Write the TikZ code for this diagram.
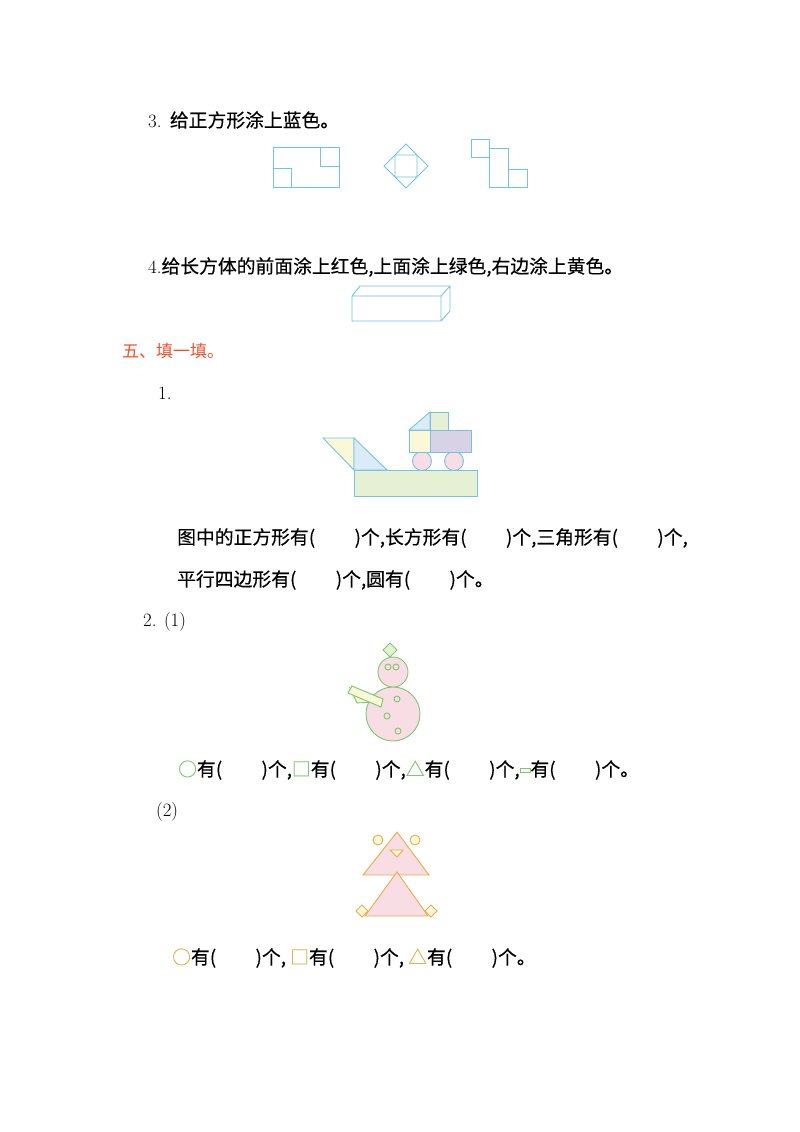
\documentclass[tikz,border=0pt]{standalone}
\usepackage{fontspec}
\newfontfamily\cjk{Noto Sans CJK SC}[FakeBold=0.3]
\begin{document}
\begin{tikzpicture}[x=1pt,y=-1pt,
  bl/.style={draw=cyanl,line width=0.9pt},
  gr/.style={draw=sg,line width=0.9pt},
  og/.style={draw=oo,line width=0.9pt},
  txt/.style={anchor=west,inner sep=0pt,font=\cjk\fontsize{18.8}{22}\selectfont}]
\useasboundingbox (0,0) rectangle (800,1132);
\definecolor{cyanl}{HTML}{72C4E0}
\definecolor{lb}{HTML}{DCEBF8}\definecolor{ly}{HTML}{FAF8D6}\definecolor{lg}{HTML}{E6F0D4}
\definecolor{lp}{HTML}{D8D2E6}\definecolor{pk}{HTML}{F8DDE4}\definecolor{sg}{HTML}{7CC86E}
\definecolor{oo}{HTML}{E6AE48}\definecolor{rd}{HTML}{F0502A}
% 3
\node[txt] (t3) at (148,120) {{\rmfamily 3.}\ \ 给正方形涂上蓝色。};
\draw[bl] (273,147) rectangle (339,187) (320,147) rectangle (339,166) (273,168) rectangle (291,187);
\draw[bl] (406,144) -- (428,166) -- (406,188) -- (384,166) -- cycle (395,155) rectangle (417,177);
\draw[bl] (471,139) rectangle (489,157) (489,148) rectangle (508,187) (508,169) rectangle (527,187);
% 4
\node[txt] (t4) at (148,267) {{\rmfamily 4.}给长方体的前面涂上红色,上面涂上绿色,右边涂上黄色。};
\draw[bl] (352,296) rectangle (441,321) (352,296) -- (360,286) -- (450,286) -- (450,311) -- (441,321) (441,296) -- (450,286);
% 五
\node[txt,text=rd,font=\fontspec{Noto Sans CJK SC}\fontsize{17}{20}\selectfont] (h5) at (122,351) {五、填一填。};
\node[txt] (n1) at (158,393) {\rmfamily 1.};
\filldraw[bl,fill=lg] (354,470) rectangle (477,496);
\filldraw[bl,fill=ly] (323,438) -- (354,438) -- (354,470) -- cycle;
\filldraw[bl,fill=lb] (354,438) -- (387,470) -- (354,470) -- cycle;
\filldraw[bl,fill=pk] (422,461) circle (9.5) (454,461) circle (9.5);
\filldraw[bl,fill=ly] (409,430) rectangle (430,452);
\filldraw[bl,fill=lp] (430,430) rectangle (471,452);
\filldraw[bl,fill=lb] (409,430) -- (430,412) -- (430,430) -- cycle;
\filldraw[bl,fill=lg] (430,412) rectangle (448,430);
\node[txt] (q1) at (177,538) {图中的正方形有(\hspace{2.1em})个,长方形有(\hspace{2.1em})个,三角形有(\hspace{2.1em})个,};
\node[txt] (q2) at (177,580) {平行四边形有(\hspace{2.1em})个,圆有(\hspace{2.1em})个。};
% 2(1)
\node[txt] (n2) at (143,622) {{\rmfamily 2. (1)}};
\filldraw[gr,fill=pk] (393,714) circle (27) (393,672) circle (15);
\filldraw[gr,fill=lg] (390,643) -- (397,650) -- (390,657) -- (383,650) -- cycle;
\draw[gr] (388,667) circle (3) (396,667) circle (3) (397,699) circle (3) (387,716) circle (3) (398,731) circle (3);
\filldraw[gr,fill=ly] (350,688) -- (357,703) -- (372,702) -- cycle;
\filldraw[gr,fill=ly] (352,686) -- (383,699) -- (381,707) -- (348,693) -- cycle;
\node[txt] (q3) at (178,770) {\textcolor{sg}{○}有(\hspace{2.1em})个,\textcolor{sg}{□}有(\hspace{2.1em})个,\textcolor{sg}{△}有(\hspace{2.1em})个,\tikz[baseline=-4pt]\draw[sg,line width=0.8pt] (0,0) rectangle (10,-4);有(\hspace{2.1em})个。};
% 2(2)
\node[txt] (n3) at (156,812) {\rmfamily (2)};
\filldraw[og,fill=ly] (378,840) circle (5) (415,840) circle (5);
\filldraw[og,fill=pk] (397,832) -- (429,875) -- (363,875) -- cycle;
\filldraw[og,fill=ly] (390,850) -- (403,850) -- (397,857) -- cycle;
\filldraw[og,fill=pk] (397,872) -- (428,916) -- (365,916) -- cycle;
\filldraw[og,fill=ly] (362,905) -- (368,911) -- (362,917) -- (356,911) -- cycle;
\filldraw[og,fill=ly] (431,905) -- (437,911) -- (431,917) -- (425,911) -- cycle;
\node[txt] (q4) at (172,958) {\textcolor{oo}{○}有(\hspace{2.1em})个, \textcolor{oo}{□}有(\hspace{2.1em})个, \textcolor{oo}{△}有(\hspace{2.1em})个。};
\end{tikzpicture}
\end{document}
